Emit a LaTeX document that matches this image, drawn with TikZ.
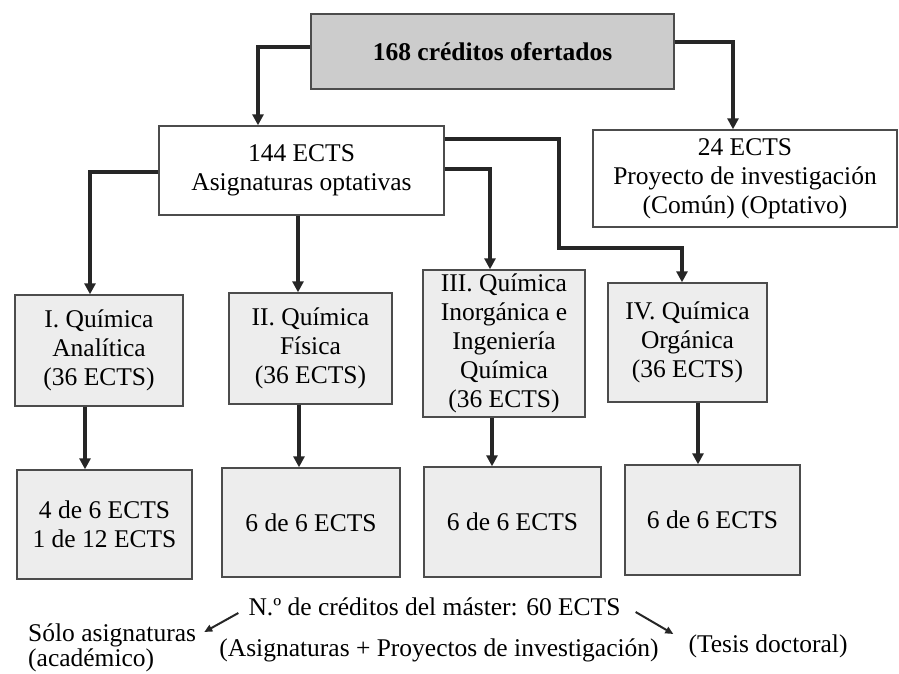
\documentclass[tikz,border=0pt]{standalone}
\usepackage{fontspec}
\setmainfont{Liberation Serif}
\usetikzlibrary{arrows.meta}

\begin{document}
\begin{tikzpicture}
    [x=1pt, y=-1pt,
     every node/.style={font=\fontsize{25.5}{29}\selectfont, align=center, inner sep=0pt},
     caja/.style={draw=black!70, line width=1.4pt},
     oscura/.style={caja, fill=black!20},
     clara/.style={caja, fill=black!7},
     flecha/.style={draw=black!85, line width=3.6pt, -{Triangle[length=11pt,width=11pt]}},
     flechita/.style={draw=black!85, line width=2pt, -{Triangle[length=8pt,width=7pt]}}]

    \useasboundingbox[fill=white] (0,0) rectangle (899,674);

    \node[oscura, minimum width=363, minimum height=75] (ofertados) at (492.5,51.5) {\bfseries 168 créditos ofertados};
    \node[caja, minimum width=285, minimum height=89] (optativas) at (301.5,170.5) {144 ECTS\\Asignaturas optativas};
    \node[caja, minimum width=304, minimum height=97] (proyecto) at (745,178.5) {24 ECTS\\Proyecto de investigación\\(Común) (Optativo)};

    % las cuatro especialidades
    \node[clara, minimum width=168, minimum height=111] (analitica) at (99,350.5) {I. Química\\Analítica\\(36 ECTS)};
    \node[clara, minimum width=163, minimum height=111] (fisica) at (310.5,348.5) {II. Química\\Física\\(36 ECTS)};
    \node[clara, minimum width=162, minimum height=147] (inorganica) at (504,343.5) {III. Química\\Inorgánica e\\Ingeniería\\Química\\(36 ECTS)};
    \node[clara, minimum width=159, minimum height=119] (organica) at (687.5,342.5) {IV. Química\\Orgánica\\(36 ECTS)};

    \node[clara, minimum width=175, minimum height=109] (creditosI) at (104.5,524.5) {4 de 6 ECTS\\1 de 12 ECTS};
    \node[clara, minimum width=178, minimum height=109] (creditosII) at (311,522.5) {6 de 6 ECTS};
    \node[clara, minimum width=177, minimum height=110] (creditosIII) at (512.5,522) {6 de 6 ECTS};
    \node[clara, minimum width=175, minimum height=110] (creditosIV) at (712.5,520) {6 de 6 ECTS};

    % texto de abajo
    \node (master) at (434.5,607) {N.º de créditos del máster: 60 ECTS};
    \node[align=left, anchor=north west, font=\fontsize{25.5}{22}\selectfont] (solo) at (28,624) {Sólo asignaturas\\(académico)};
    \node (asignaturas) at (439,650) {(Asignaturas + Proyectos de investigación)};
    \node (tesis) at (768,646) {(Tesis doctoral)};

    \draw[flecha] ([yshift=4.5pt]ofertados.west) -| ([xshift=-43.5pt]optativas.north);
    \draw[flecha] ([yshift=9.5pt]ofertados.east) -| ([xshift=-12pt]proyecto.north);

    \draw[flecha] ([yshift=-1.5pt]optativas.west) -| ([xshift=-9pt]analitica.north);
    \draw[flecha] ([xshift=-3.5pt]optativas.south) -- ([xshift=-12.5pt]fisica.north);
    \draw[flecha] ([yshift=1.5pt]optativas.east) -| ([xshift=-14pt]inorganica.north);
    \coordinate (codo) at (559,248);
    \draw[flecha] ([yshift=31.5pt]optativas.east) -| (codo) -| ([xshift=-5.5pt]organica.north);

    \draw[flecha] ([xshift=-14pt]analitica.south) -- ([xshift=-19.5pt]creditosI.north);
    \draw[flecha] ([xshift=-11.5pt]fisica.south) -- ([xshift=-12pt]creditosII.north);
    \draw[flecha] ([xshift=-12pt]inorganica.south) -- ([xshift=-20.5pt]creditosIII.north);
    \draw[flecha] ([xshift=10.5pt]organica.south) -- ([xshift=-14.5pt]creditosIV.north);

    \draw[flechita] ([xshift=-10pt,yshift=-6pt]master.west) -- ([xshift=8pt,yshift=-8pt]solo.north east);
    \draw[flechita] ([xshift=15pt,yshift=-5pt]master.east) -- ([xshift=-15pt,yshift=12pt]tesis.west);

  \end{tikzpicture}
\end{document}
